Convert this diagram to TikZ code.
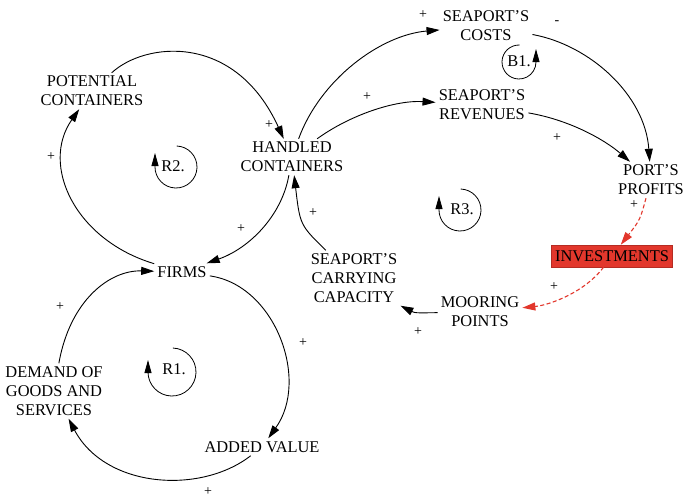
\documentclass[tikz,border=0pt]{standalone}
\usepackage{fontspec}
\setmainfont{Liberation Serif}
\usetikzlibrary{arrows.meta}
\definecolor{invred}{HTML}{E2372C}
\tikzset{
  lbl/.style={align=center, inner sep=3pt, font=\fontsize{16.4}{19}\selectfont},
  pm/.style={inner sep=0pt, font=\fontsize{14}{14}\selectfont},
  arr/.style={line width=0.9pt, -{Triangle[length=13pt,width=8pt]}},
  redarr/.style={line width=1.1pt, invred, dash pattern=on 4pt off 2.5pt, -{Triangle[length=13pt,width=8pt]}},
  loopar/.style={line width=0.8pt, -{Triangle[length=13pt,width=7pt]}},
  invbox/.style={fill=invred, draw=invred!80!black, line width=0.4pt, minimum width=121pt, minimum height=22pt, inner sep=0pt, font=\fontsize{16.4}{19}\selectfont}
}
\begin{document}
\begin{tikzpicture}[x=1pt,y=-1pt]
\useasboundingbox (0,0) rectangle (686,498);

% nodes
\node[lbl] (sc) at (486,26) {SEAPORT'S\\COSTS};
\node[lbl] (sr) at (482,105) {SEAPORT'S\\REVENUES};
\node[lbl] (pc) at (92,91) {POTENTIAL\\CONTAINERS};
\node[lbl] (hc) at (292,157) {HANDLED\\CONTAINERS};
\node[lbl] (pp) at (651,180) {PORT'S\\PROFITS};
\node[invbox] (inv) at (612,256) {INVESTMENTS};
\node[lbl] (fi) at (182,272) {FIRMS};
\node[lbl] (cap) at (354,278) {SEAPORT'S\\CARRYING\\CAPACITY};
\node[lbl] (mp) at (480,312) {MOORING\\POINTS};
\node[lbl] (dg) at (54,391) {DEMAND OF\\GOODS AND\\SERVICES};
\node[lbl] (av) at (262,447) {ADDED VALUE};

% connectors
\draw[arr] (pc) .. controls (145,42) and (235,32) .. (hc);
\draw[arr] (hc) .. controls (282,215) and (250,248) .. (fi);
\draw[arr] (fi) .. controls (75,240) and (40,165) .. (pc);
\draw[arr] (hc) .. controls (320,80) and (380,35) .. (sc);
\draw[arr] (hc) .. controls (350,115) and (395,100) .. (sr);
\draw[arr] (sc) .. controls (590,45) and (645,95) .. (pp);
\draw[arr] (sr) .. controls (570,120) and (605,140) .. (pp);
\draw[redarr] (pp) .. controls (640,220) .. (inv);
\draw[redarr] (inv) .. controls (585,292) and (550,305) .. (mp);
\draw[arr] (mp) .. controls (415,313) .. (cap.south east);
\draw[arr] (cap) .. controls (300,225) .. (hc);
\draw[arr] (fi) .. controls (275,285) and (310,380) .. (av);
\draw[arr] (av) .. controls (200,495) and (105,488) .. (dg);
\draw[arr] (dg) .. controls (70,300) and (110,270) .. (fi);

% polarity signs
\node[pm] (s1) at (269,125) {+};
\node[pm] (s2) at (241,229) {+};
\node[pm] (s3) at (51,157) {+};
\node[pm] (s4) at (423,15) {+};
\node[pm] (s5) at (367,97) {+};
\node[pm] (s6) at (557,23) {-};
\node[pm] (s7) at (557,138) {+};
\node[pm] (s8) at (634,205) {+};
\node[pm] (s9) at (554,287) {+};
\node[pm] (s10) at (418,332) {+};
\node[pm] (s11) at (313,213) {+};
\node[pm] (s12) at (303,343) {+};
\node[pm] (s13) at (208,492) {+};
\node[pm] (s14) at (60,307) {+};

% loop markers
\node[lbl, inner sep=0pt] (r2) at (173,166) {R2.};
\draw[loopar] (176,167) ++(-88:21) arc[start angle=-88, end angle=180, radius=21] -- ++(0,-14);
\node[lbl, inner sep=0pt] (r3) at (462,209) {R3.};
\draw[loopar] (460,210) ++(-88:21) arc[start angle=-88, end angle=180, radius=21] -- ++(0,-14);
\node[lbl, inner sep=0pt] (r1) at (174,369) {R1.};
\draw[loopar] (172,372) ++(-88:24) arc[start angle=-88, end angle=180, radius=24] -- ++(0,-12);
\node[lbl, inner sep=0pt] (b1) at (519,61) {B1.};
\draw[loopar] (519,62) ++(-88:17) arc[start angle=272, end angle=0, radius=17] -- ++(0,-13);
\end{tikzpicture}
\end{document}
